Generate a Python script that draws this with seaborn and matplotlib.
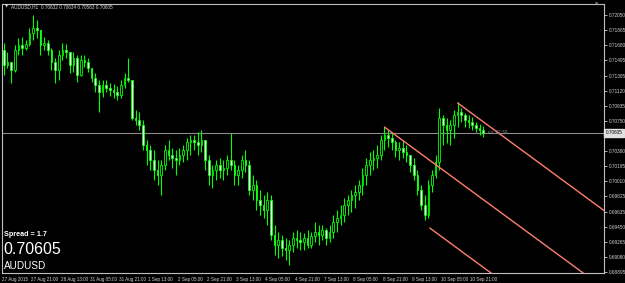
import numpy as np
import pandas as pd
import matplotlib
matplotlib.use("Agg")
import matplotlib.pyplot as plt
import matplotlib.transforms as mtransforms
import seaborn as sns

# ---------------- data ----------------
symbol = "AUDUSD"
timeframe = "H1"
header_ohlc = ["0.70632", "0.70634", "0.70563", "0.70605"]
bid = 0.70605
bid_label = "0.70605"
spread = 1.7
timer_text = "<< 22:30"

first_open = 0.71620
closes = [0.71436, 0.71473, 0.71375, 0.71620, 0.71682, 0.71645, 0.71694, 0.71829, 0.71890, 0.71866,
          0.71682, 0.71706, 0.71620, 0.71473, 0.71375, 0.71559, 0.71620, 0.71596, 0.71436, 0.71522,
          0.71313, 0.71497, 0.71473, 0.71399, 0.71276, 0.71191, 0.71105, 0.71191, 0.71154, 0.71129,
          0.71105, 0.71068, 0.71191, 0.71276, 0.71252, 0.70785, 0.70761, 0.70699, 0.70454, 0.70393,
          0.70270, 0.70147, 0.70086, 0.70208, 0.70393, 0.70331, 0.70294, 0.70270, 0.70331, 0.70393,
          0.70491, 0.70515, 0.70491, 0.70454, 0.70515, 0.70270, 0.70086, 0.70147, 0.70208, 0.70147,
          0.70172, 0.70270, 0.70208, 0.70086, 0.70147, 0.70270, 0.70208, 0.69902, 0.69963, 0.69779,
          0.69717, 0.69656, 0.69779, 0.69349, 0.69226, 0.69288, 0.69190, 0.69165, 0.69226, 0.69312,
          0.69288, 0.69263, 0.69312, 0.69226, 0.69337, 0.69386, 0.69349, 0.69411, 0.69312, 0.69386,
          0.69509, 0.69558, 0.69595, 0.69717, 0.69779, 0.69840, 0.69877, 0.69963, 0.70086, 0.70208,
          0.70270, 0.70294, 0.70331, 0.70515, 0.70577, 0.70540, 0.70491, 0.70393, 0.70417, 0.70368,
          0.70331, 0.70208, 0.70086, 0.69902, 0.69717, 0.69595, 0.69963, 0.70086, 0.70245, 0.70785,
          0.70699, 0.70638, 0.70699, 0.70822, 0.70859, 0.70822, 0.70761, 0.70736, 0.70699, 0.70663,
          0.70638, 0.70605]
highs = [0.71706, 0.71596, 0.71473, 0.71682, 0.71768, 0.71780, 0.71743, 0.71890, 0.72050, 0.71988,
         0.71866, 0.71780, 0.71743, 0.71645, 0.71522, 0.71620, 0.71706, 0.71694, 0.71596, 0.71596,
         0.71559, 0.71559, 0.71559, 0.71522, 0.71399, 0.71338, 0.71252, 0.71252, 0.71252, 0.71215,
         0.71203, 0.71178, 0.71252, 0.71338, 0.71522, 0.71252, 0.70884, 0.70859, 0.70761, 0.70515,
         0.70454, 0.70393, 0.70270, 0.70270, 0.70454, 0.70515, 0.70417, 0.70393, 0.70417, 0.70454,
         0.70540, 0.70577, 0.70577, 0.70614, 0.70638, 0.70515, 0.70331, 0.70208, 0.70270, 0.70294,
         0.70270, 0.70331, 0.70601, 0.70270, 0.70208, 0.70331, 0.70393, 0.70270, 0.70086, 0.70024,
         0.69902, 0.69840, 0.69877, 0.69840, 0.69472, 0.69386, 0.69349, 0.69312, 0.69288, 0.69386,
         0.69411, 0.69386, 0.69374, 0.69411, 0.69386, 0.69509, 0.69472, 0.69472, 0.69435, 0.69472,
         0.69595, 0.69656, 0.69717, 0.69803, 0.69840, 0.69902, 0.69963, 0.70024, 0.70172, 0.70294,
         0.70368, 0.70393, 0.70454, 0.70577, 0.70675, 0.70638, 0.70601, 0.70515, 0.70491, 0.70515,
         0.70454, 0.70331, 0.70294, 0.70147, 0.69963, 0.69840, 0.70024, 0.70147, 0.70331, 0.70908,
         0.70822, 0.70785, 0.70761, 0.70884, 0.70982, 0.70908, 0.70847, 0.70822, 0.70798, 0.70736,
         0.70712, 0.70687]
lows = [0.71313, 0.71399, 0.71215, 0.71350, 0.71559, 0.71559, 0.71620, 0.71669, 0.71743, 0.71768,
        0.71559, 0.71620, 0.71559, 0.71375, 0.71215, 0.71252, 0.71497, 0.71522, 0.71338, 0.71350,
        0.71227, 0.71301, 0.71412, 0.71350, 0.71227, 0.71105, 0.70859, 0.71043, 0.71105, 0.71056,
        0.71031, 0.71006, 0.71031, 0.71154, 0.71227, 0.70761, 0.70699, 0.70638, 0.70393, 0.70208,
        0.70147, 0.70024, 0.69963, 0.69840, 0.70147, 0.70270, 0.70172, 0.70086, 0.70208, 0.70245,
        0.70270, 0.70331, 0.70393, 0.70331, 0.70368, 0.70147, 0.69963, 0.69926, 0.70024, 0.70049,
        0.70024, 0.70086, 0.70147, 0.69963, 0.69963, 0.70049, 0.70123, 0.69840, 0.69779, 0.69656,
        0.69595, 0.69558, 0.69472, 0.69288, 0.69104, 0.69067, 0.69091, 0.69042, 0.68981, 0.69140,
        0.69190, 0.69165, 0.69165, 0.69190, 0.69190, 0.69263, 0.69226, 0.69288, 0.69226, 0.69263,
        0.69312, 0.69386, 0.69472, 0.69509, 0.69595, 0.69631, 0.69681, 0.69779, 0.69840, 0.69963,
        0.70086, 0.70147, 0.70172, 0.70270, 0.70393, 0.70429, 0.70393, 0.70307, 0.70270, 0.70294,
        0.70245, 0.70123, 0.70024, 0.69840, 0.69656, 0.69533, 0.69558, 0.69877, 0.70049, 0.70147,
        0.70454, 0.70479, 0.70454, 0.70540, 0.70675, 0.70736, 0.70675, 0.70663, 0.70638, 0.70614,
        0.70577, 0.70552]

time_labels = ["27 Aug 2015", "27 Aug 21:00", "28 Aug 13:00", "31 Aug 05:00", "31 Aug 21:00",
               "1 Sep 13:00", "2 Sep 05:00", "2 Sep 21:00", "3 Sep 13:00", "4 Sep 05:00",
               "4 Sep 21:00", "7 Sep 13:00", "8 Sep 05:00", "8 Sep 21:00", "9 Sep 13:00",
               "10 Sep 05:00", "10 Sep 21:00"]
bars_per_label = 8

price_labels = ["0.72050", "0.71865", "0.71680", "0.71495", "0.71305", "0.71120", "0.70935",
                "0.70750", "0.70565", "0.70380", "0.70195", "0.70010", "0.69825", "0.69635",
                "0.69450", "0.69265", "0.69080", "0.68895"]

# pitchfork-style channel: start bar / start price of each line, common slope per bar
channel_start_bars = [124.0, 104.0, 116.4]
channel_start_prices = [0.70970, 0.70675, 0.69435]
channel_slope = -0.000330
channel_end_bar = 166.0

# ---------------- figure ----------------
sns.set_style("dark", {"axes.facecolor": "black", "figure.facecolor": "black"})
plt.rcParams["font.family"] = ["Liberation Sans", "DejaVu Sans"]

W, H = 625, 283
fig = plt.figure(figsize=(W / 100, H / 100), dpi=100)
fig.patch.set_facecolor("black")
ax = fig.add_axes([2 / W, 1 - 273 / H, 602 / W, 269 / H])
ax.set_facecolor("black")

n = len(closes)
x = np.arange(n)
opens = np.array([first_open] + closes[:-1])
c = np.array(closes)
hi = np.array(highs)
lo = np.array(lows)

lime = "#00ff00"
ax.vlines(x, lo, hi, color=lime, lw=0.8, zorder=3)
bull = c >= opens
body_bottom = np.minimum(opens, c)
body_h = np.maximum(np.abs(c - opens), 0.00002)
ax.bar(x[bull], body_h[bull], bottom=body_bottom[bull], width=0.45,
       color="black", edgecolor=lime, linewidth=0.6, zorder=4)
ax.bar(x[~bull], body_h[~bull], bottom=body_bottom[~bull], width=0.45,
       color="white", edgecolor=lime, linewidth=0.6, zorder=4)

# channel lines via seaborn
rows = []
for k, (b0, p0) in enumerate(zip(channel_start_bars, channel_start_prices)):
    rows.append({"line": k, "bar": b0, "price": p0})
    rows.append({"line": k, "bar": channel_end_bar,
                 "price": p0 + channel_slope * (channel_end_bar - b0)})
ch = pd.DataFrame(rows)
sns.lineplot(data=ch, x="bar", y="price", units="line", estimator=None,
             color="#ff7f6e", lw=1.0, ax=ax, zorder=5, legend=False)

# bid line
ax.axhline(bid, color="#8c8c8c", lw=0.8, zorder=2)

# axes limits
ax.set_xlim(-0.5, 164.0)
ax.set_ylim(0.68883, 0.72185)

# y ticks on right
yt = [float(s) for s in price_labels]
ax.yaxis.tick_right()
ax.set_yticks(yt)
ax.set_yticklabels(price_labels)
ax.tick_params(axis="y", colors="#d0d0d0", labelsize=3.4, length=2, width=0.6, pad=1.2,
               direction="out", left=False, right=True)

xt = [i * bars_per_label - 0.5 for i in range(len(time_labels))]
ax.set_xticks(xt)
ax.set_xticklabels(time_labels, ha="left")
ax.tick_params(axis="x", colors="#d0d0d0", labelsize=3.3, length=2, width=0.6, pad=1.0,
               direction="out")
ax.set_xlabel("")
ax.set_ylabel("")

for s in ax.spines.values():
    s.set_color("#c0c0c0")
    s.set_linewidth(0.8)
    s.set_visible(True)

# bid price box on the axis
trans = mtransforms.blended_transform_factory(ax.transAxes, ax.transData)
ax.text(1.003, bid, bid_label, transform=trans, fontsize=3.4, color="black",
        ha="left", va="center", zorder=10, clip_on=False,
        bbox=dict(boxstyle="square,pad=0.3", fc="#e0e0e0", ec="#e0e0e0"))

# timer next to last bar
ax.text(n + 0.2, bid, timer_text, fontsize=3.5, color="#8c8c8c", ha="left", va="center",
        zorder=6)

# header
fig.text(5 / W, 1 - 7 / H, "\u25bc", fontsize=3.0, color="#d8d8d8", ha="left", va="center",
         family=["DejaVu Sans"])
fig.text(11 / W, 1 - 7 / H, symbol + "," + timeframe + "  " + " ".join(header_ohlc),
         fontsize=3.4, color="#d8d8d8", ha="left", va="center")
# chart shift marker top-right
fig.text(597 / W, 1 - 5 / H, "\u25bc", fontsize=3.0, color="#909090", ha="center",
         va="center", family=["DejaVu Sans"])

# bottom-left info
fig.text(4 / W, 1 - 234 / H, "Spread = " + str(spread), fontsize=5.2, fontweight="bold",
         color="white", ha="left", va="center")
fig.text(3 / W, 1 - 250 / H, bid_label, fontsize=11.5, color="white", ha="left",
         va="center")
fig.text(4 / W, 1 - 266 / H, symbol, fontsize=7.2, color="white", ha="left", va="center")

fig.savefig("out.png", dpi=100, facecolor="black")
